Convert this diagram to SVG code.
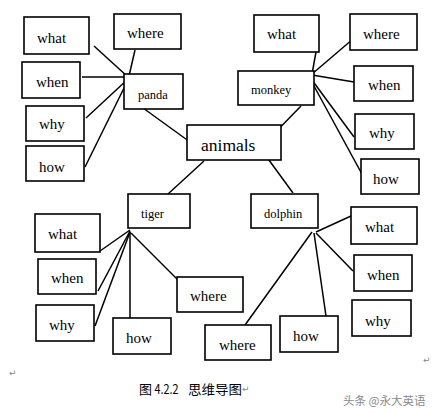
<svg xmlns="http://www.w3.org/2000/svg" width="436" height="414" viewBox="0 0 436 414">
<style>
.b{fill:#fff;stroke:#000;stroke-width:1.6}
.t{font-family:"Liberation Serif","Times New Roman",serif;font-size:15px;fill:#000}
.s{font-family:"Liberation Serif","Times New Roman",serif;font-size:12.5px;fill:#000}
.a{font-family:"Liberation Serif","Times New Roman",serif;font-size:17.5px;fill:#000}
.c line{stroke:#000;stroke-width:1.5}
.r{font-family:"DejaVu Sans",sans-serif;font-size:9px;fill:#888}
.cap{font-family:"Noto Sans CJK SC",sans-serif;font-size:13px;fill:#000}
</style>
<rect width="436" height="414" fill="#fff"/>
<g class="c" id="connectors">
<line x1="94" y1="46" x2="128" y2="77"/>
<line x1="135" y1="50" x2="129" y2="76"/>
<line x1="82" y1="77" x2="128" y2="77"/>
<line x1="86" y1="118" x2="128" y2="79"/>
<line x1="85" y1="167" x2="128" y2="80"/>
<line x1="143" y1="108" x2="190" y2="142"/>
<line x1="316" y1="52" x2="312" y2="74"/>
<line x1="353" y1="39" x2="312" y2="74"/>
<line x1="312" y1="75" x2="354" y2="82"/>
<line x1="309" y1="76" x2="354" y2="137"/>
<line x1="308" y1="75" x2="363" y2="176"/>
<line x1="301" y1="106" x2="265" y2="143"/>
<line x1="266" y1="156" x2="293" y2="193"/>
<line x1="204" y1="161" x2="168" y2="194"/>
<line x1="100" y1="251" x2="130" y2="230"/>
<line x1="98" y1="291" x2="130" y2="231"/>
<line x1="95" y1="326" x2="130" y2="232"/>
<line x1="130" y1="232" x2="130" y2="323"/>
<line x1="131" y1="233" x2="181" y2="283"/>
<line x1="351" y1="216" x2="316" y2="232"/>
<line x1="316" y1="233" x2="353" y2="271"/>
<line x1="314" y1="233" x2="326" y2="316"/>
<line x1="312" y1="232" x2="245" y2="325"/>
</g>
<g id="animals"><rect class="b" x="187" y="125" width="94" height="35"/><text class="a" x="201" y="151">animals</text></g>
<g id="panda"><rect class="b" x="124" y="74" width="59" height="35"/><text class="s" x="138" y="99">panda</text></g>
<g id="panda-what"><rect class="b" x="24" y="17" width="65" height="37"/><text class="t" x="37" y="43">what</text></g>
<g id="panda-where"><rect class="b" x="114" y="14" width="67" height="35"/><text class="t" x="127" y="38">where</text></g>
<g id="panda-when"><rect class="b" x="22" y="62" width="58" height="36"/><text class="t" x="36" y="87">when</text></g>
<g id="panda-why"><rect class="b" x="26" y="106" width="58" height="35"/><text class="t" x="39" y="129">why</text></g>
<g id="panda-how"><rect class="b" x="26" y="146" width="58" height="35"/><text class="t" x="39" y="172">how</text></g>
<g id="monkey"><rect class="b" x="238" y="71" width="76" height="34"/><text class="s" x="251" y="94">monkey</text></g>
<g id="monkey-what"><rect class="b" x="254" y="15" width="65" height="37"/><text class="t" x="267" y="39">what</text></g>
<g id="monkey-where"><rect class="b" x="350" y="14" width="67" height="36"/><text class="t" x="363" y="39">where</text></g>
<g id="monkey-when"><rect class="b" x="354" y="66" width="59" height="35"/><text class="t" x="368" y="90">when</text></g>
<g id="monkey-why"><rect class="b" x="355" y="114" width="59" height="35"/><text class="t" x="369" y="138">why</text></g>
<g id="monkey-how"><rect class="b" x="361" y="159" width="58" height="35"/><text class="t" x="373" y="184">how</text></g>
<g id="tiger"><rect class="b" x="128" y="194" width="62" height="34"/><text class="s" x="141" y="218">tiger</text></g>
<g id="tiger-what"><rect class="b" x="35" y="214" width="65" height="38"/><text class="t" x="48" y="239">what</text></g>
<g id="tiger-when"><rect class="b" x="38" y="259" width="58" height="35"/><text class="t" x="51" y="283">when</text></g>
<g id="tiger-why"><rect class="b" x="36" y="305" width="58" height="36"/><text class="t" x="49" y="330">why</text></g>
<g id="tiger-how"><rect class="b" x="113" y="318" width="58" height="36"/><text class="t" x="126" y="343">how</text></g>
<g id="tiger-where"><rect class="b" x="177" y="277" width="66" height="35"/><text class="t" x="190" y="301">where</text></g>
<g id="dolphin"><rect class="b" x="251" y="194" width="67" height="34"/><text class="s" x="264" y="218">dolphin</text></g>
<g id="dolphin-what"><rect class="b" x="351" y="207" width="66" height="37"/><text class="t" x="365" y="232">what</text></g>
<g id="dolphin-when"><rect class="b" x="354" y="255" width="58" height="36"/><text class="t" x="367" y="280">when</text></g>
<g id="dolphin-why"><rect class="b" x="352" y="300" width="59" height="36"/><text class="t" x="365" y="326">why</text></g>
<g id="dolphin-how"><rect class="b" x="280" y="316" width="58" height="36"/><text class="t" x="293" y="341">how</text></g>
<g id="dolphin-where"><rect class="b" x="205" y="325" width="66" height="35"/><text class="t" x="219" y="350">where</text></g>
<g id="caption">
<text class="cap" x="139" y="394">图</text>
<text class="cap" x="154.5" y="394" textLength="24" lengthAdjust="spacingAndGlyphs">4.2.2</text>
<text class="cap" x="188" y="394" textLength="54" lengthAdjust="spacingAndGlyphs">思维导图</text>
<text class="r" x="242" y="392">↵</text>
</g>
<text class="r" x="9" y="376">↵</text>
<text class="r" x="423" y="363">↵</text>
<text x="343" y="405" font-family="'Noto Sans CJK SC',sans-serif" font-size="11.5" fill="#8a8a8a">头条 @永大英语</text>
</svg>
